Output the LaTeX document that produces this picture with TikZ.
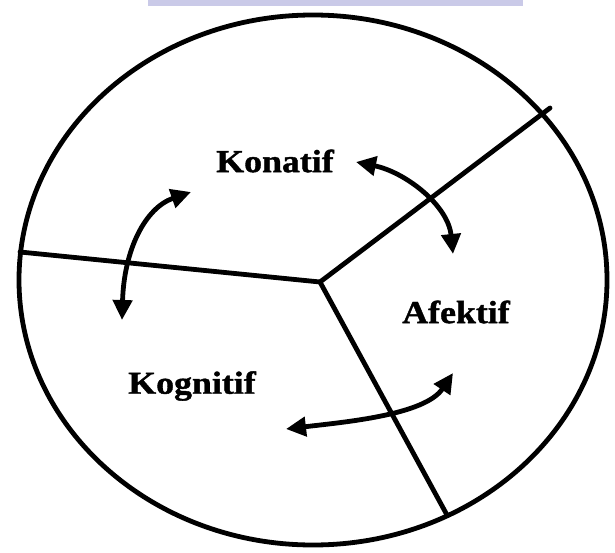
\documentclass[tikz,border=0pt]{standalone}
\usepackage{fontspec}
\setmainfont{Liberation Serif}
\newfontfamily\lblfont[FakeStretch=1.12, FakeBold=1.2]{Liberation Serif Bold}
\usetikzlibrary{arrows.meta}
\definecolor{banner}{RGB}{202,202,232}
\tikzset{
  thick line/.style={line width=4.8pt, line cap=round},
  dbl arrow/.style={line width=4.8pt, {Triangle[length=20pt,width=19pt]}-{Triangle[length=20pt,width=19pt]}},
  label text/.style={font=\lblfont\fontsize{32}{34}\selectfont, inner sep=0pt}
}
\begin{document}
\begin{tikzpicture}[x=1pt,y=-1pt]
\useasboundingbox (0,0) rectangle (615,553);
\fill[white] (0,0) rectangle (615,553);
\fill[banner] (148,0) rectangle (523,6);
% outer ellipse
\draw[thick line] (313,280) ellipse [x radius=294, y radius=265];
% sector lines
\coordinate (ctr) at (320,282);
\coordinate (pl) at (20,252);
\coordinate (pr) at (550,108);
\coordinate (pb) at (447,515);
\draw[thick line] (ctr) -- (pl);
\draw[thick line] (ctr) -- (pr);
\draw[thick line] (ctr) -- (pb);
% labels
\node[label text] (kon) at (275,161) {Konatif};
\node[label text] (afe) at (456,312) {Afektif};
\node[label text] (kog) at (192,386) {Kognitif};
% arrows
\coordinate (a1s) at (122,320);
\coordinate (a1e) at (191,192);
\draw[dbl arrow] (a1s) .. controls (124,250) and (145,208) .. (a1e);
\coordinate (a2s) at (356,162);
\coordinate (a2e) at (453,254);
\draw[dbl arrow] (a2s) .. controls (405,172) and (448,205) .. (a2e);
\coordinate (a3s) at (286,429);
\coordinate (a3e) at (453,373);
\draw[dbl arrow] (a3s) .. controls (345,422) and (425,415) .. (a3e);
\end{tikzpicture}
\end{document}
